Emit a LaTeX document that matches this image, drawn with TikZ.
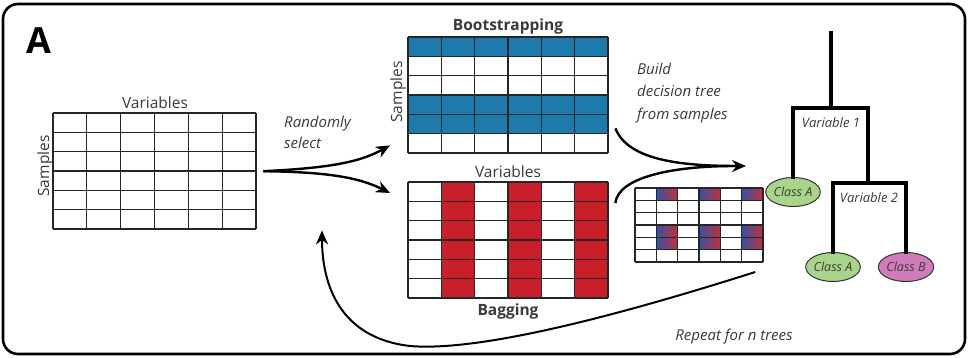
\documentclass[tikz,border=0pt]{standalone}
\usepackage{fontspec}
\setmainfont{Open Sans}
\usetikzlibrary{arrows.meta,shapes.geometric}
\definecolor{txt}{HTML}{3A3A3A}
\definecolor{bootblue}{HTML}{1F7BAE}
\definecolor{bagred}{HTML}{C8202B}
\definecolor{gblue}{HTML}{3552A3}
\definecolor{gred}{HTML}{C2303C}
\definecolor{leafgreen}{HTML}{A9D48A}
\definecolor{leafpink}{HTML}{D17CBA}
\tikzset{
  gridline/.style={line width=1.3pt, draw=black!85},
  lbl/.style={font=\fontsize{15.5}{18}\selectfont, text=txt, inner sep=0pt},
  boldlbl/.style={font=\fontsize{15.5}{18}\selectfont\bfseries, text=txt, inner sep=0pt},
  itl/.style={font=\fontsize{15}{21}\selectfont\itshape, text=txt, inner sep=0pt, align=left},
  smallitl/.style={font=\fontsize{13}{15}\selectfont\itshape, text=txt, inner sep=0pt},
  gridbox/.style={inner sep=0pt, anchor=north west},
  leaf/.style={ellipse, draw=black!80, line width=1pt, inner sep=0pt, minimum width=52pt, minimum height=29pt, font=\fontsize{12.5}{14}\selectfont\itshape, text=txt},
  treeline/.style={line width=4pt, line join=miter, line cap=rect},
  flow/.style={line width=2.4pt, -{Stealth[length=14pt,width=12pt]}},
  flowplain/.style={line width=2.4pt},
}
\newcommand\mygrid[6]{%
  \foreach \k in {0,...,#5} \draw[gridline] ({#1+\k*(#3-#1)/#5},#2) -- ({#1+\k*(#3-#1)/#5},#4);
  \foreach \k in {0,...,#6} \draw[gridline] (#1,{#2+\k*(#4-#2)/#6}) -- (#3,{#2+\k*(#4-#2)/#6});
}
\begin{document}
\begin{tikzpicture}[x=1pt,y=-1pt]
\useasboundingbox (0,0) rectangle (968,358);
\fill[white] (0,0) rectangle (968,358);
% frame
\draw[line width=2.6pt, rounded corners=15pt] (3,4) rectangle (965,354);
\node[font=\fontsize{36}{40}\selectfont\bfseries, inner sep=0pt] (lab) at (39,41) {A};

% left grid
\node[gridbox, minimum width=203pt, minimum height=116pt] (g0) at (53,113) {};
\mygrid{53}{113}{256}{229}{6}{6}
\node[lbl] (v0) at (155,103) {Variables};
\node[lbl, rotate=90] (s0) at (45,166) {Samples};

% bootstrapping grid
\node[gridbox, minimum width=200pt, minimum height=116pt] (boot) at (408,37) {};
\foreach \r in {0,3,4} \fill[bootblue] (408,{37+\r*19.333}) rectangle (608,{37+(\r+1)*19.333});
\mygrid{408}{37}{608}{153}{6}{6}
\node[boldlbl] (bt) at (508,26) {Bootstrapping};
\node[lbl, rotate=90] (s1) at (398,92) {Samples};

% bagging grid
\node[gridbox, minimum width=200pt, minimum height=116pt] (bag) at (408,182) {};
\foreach \c in {1,3,5} \fill[bagred] ({408+\c*33.333},182) rectangle ({408+(\c+1)*33.333},298);
\mygrid{408}{182}{608}{298}{6}{6}
\node[lbl] (v1) at (508,172) {Variables};
\node[boldlbl] (bg) at (508,311) {Bagging};

% combined small grid
\node[gridbox, minimum width=128pt, minimum height=74pt] (comb) at (635,188) {};
\foreach \r in {0,3,4} {
  \foreach \c in {1,3,5} {
    \shade[left color=gblue, right color=gred] ({635+\c*21.333},{188+\r*12.333}) rectangle ({635+(\c+1)*21.333},{188+(\r+1)*12.333});
  }
}
\mygrid{635}{188}{763}{262}{6}{6}

% randomly select arrows
\coordinate (rs) at ([xshift=7pt]g0.east);
\coordinate (rtop) at ([xshift=-18pt,yshift=8pt]boot.south west);
\coordinate (rbot) at ([xshift=-18pt,yshift=-11pt]bag.north west);
\draw[flow] (rs) .. controls (330,168) and (360,162) .. (rtop);
\draw[flow] (rs) .. controls (330,172) and (360,178) .. (rbot);
\node[itl, anchor=west] (rtext) at (284,132) {Randomly\\select};

% build decision tree arrows
\coordinate (bs1) at ([xshift=7pt,yshift=25pt]boot.south east);
\coordinate (bs2) at ([xshift=7pt,yshift=-21pt]bag.north east);
\coordinate (bend) at (746,166);
\coordinate (bmid) at (735,166);
\draw[flowplain] (bs2) .. controls (618,178) and (670,166) .. (bmid);
\draw[flow] (bs1) .. controls (628,160) and (680,166) .. (bend);
\node[itl, anchor=west, font=\fontsize{15}{22.5}\selectfont\itshape] (btext) at (637,93) {Build\\decision tree\\from samples};

% tree
\coordinate (root) at (831,33);
\coordinate (j1) at (831,108);
\coordinate (j2) at (868,183);
\node[leaf, fill=leafgreen] (cA1) at (793,192) {Class A};
\node[leaf, fill=leafgreen] (cA2) at (833,267) {Class A};
\node[leaf, fill=leafpink] (cB) at (906,267) {Class B};
\draw[treeline] (root) -- (j1);
\draw[treeline] (cA1.north) |- (j1) -| (j2);
\draw[treeline] (cA2.north) |- (j2) -| (cB.north);
\node[smallitl] (v1t) at (831,123) {Variable 1};
\node[smallitl] (v2t) at (869,198) {Variable 2};

% repeat arrow
\coordinate (rp) at ([xshift=-50pt,yshift=-5pt]cA2.west);
\coordinate (rpend) at ([xshift=-86pt,yshift=68pt]bag.south west);
\draw[flow, line width=2pt] (rp) .. controls (620,315) and (480,352) .. (410,346) .. controls (340,338) and (322,285) .. (rpend);
\node[itl] (rtx) at (734,337) {Repeat for \textit{n} trees};
\end{tikzpicture}
\end{document}
